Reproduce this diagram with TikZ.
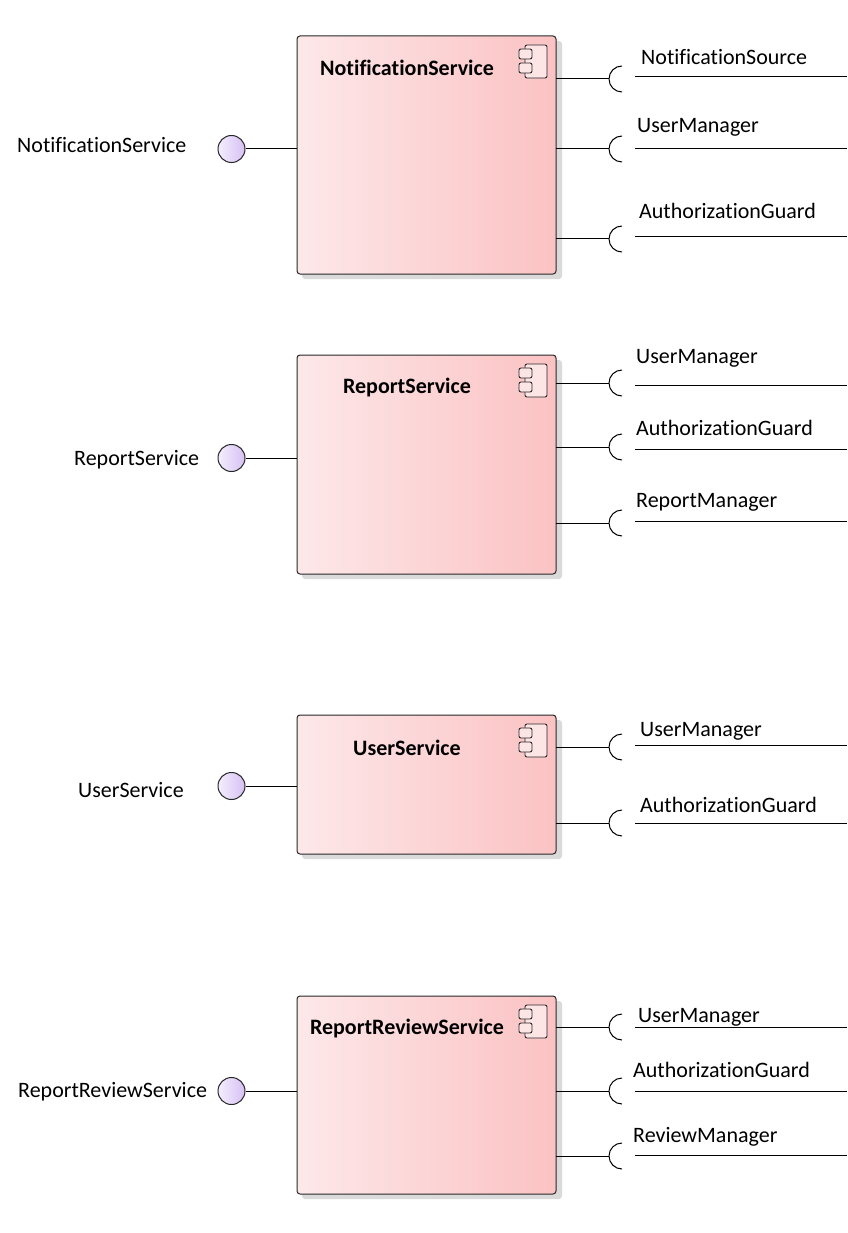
\documentclass[tikz,border=0pt]{standalone}
\usepackage{fontspec}
\setmainfont{Carlito}[Ligatures={NoCommon,NoRequired,NoContextual}]
\definecolor{boxL}{RGB}{253,232,233}
\definecolor{boxR}{RGB}{251,194,195}
\definecolor{iconF}{RGB}{253,228,229}
\definecolor{lolL}{RGB}{244,238,253}
\definecolor{lolR}{RGB}{214,192,244}
\definecolor{shadowc}{RGB}{218,218,218}
\definecolor{edge}{RGB}{40,40,40}
\tikzset{
  comp/.style={draw=edge, line width=1pt, rounded corners=3pt, left color=boxL, right color=boxR,
    minimum width=259pt, anchor=north west, inner sep=0pt, outer sep=0pt},
  ctitle/.style={font=\fontsize{22}{25}\selectfont\bfseries, inner sep=0pt},
  lbl/.style={font=\fontsize{22}{25}\selectfont, inner sep=0pt, anchor=base west},
  lolli/.style={circle, draw=edge, line width=1pt, minimum size=27pt, inner sep=0pt,
    left color=lolL, right color=lolR},
  sock/.style={circle, minimum size=26pt, inner sep=0pt, outer sep=0pt},
  iconst/.style={draw=edge, line width=0.9pt, fill=iconF, rounded corners=2pt},
  conn/.style={draw=black, line width=1pt},
}
\newcommand\Comp[9]{%
  \fill[shadowc, rounded corners=3pt] (302,#2+5) rectangle (562,#3+5);
  \node[comp, minimum height={#3-#2}] (#1) at (297,#2) {};
  \node[ctitle] (#1-t) at (407,#5+1) {#4};
  \draw[iconst] (525,#2+9) rectangle (547,#2+42);
  \draw[iconst] (519,#2+13) rectangle (532,#2+23);
  \draw[iconst] (519,#2+27) rectangle (532,#2+37);
  \node[lolli] (#1-p) at (231.5,#6) {};
  \draw[conn] (#1-p.east) -- (#1-p -| #1.west);
  \node[lbl] (#1-pl) at (#8,#9+1) {#7};
}
\newcommand\Req[7]{%
  \node[sock] (#1-#2) at (622,#3) {};
  \draw[conn] (#1-#2.west -| #1.east) -- (#1-#2.west);
  \draw[conn] (#1-#2.north) arc[start angle=90, end angle=270, radius=13pt];
  \coordinate (#1-#2a) at (635,#4);
  \coordinate (#1-#2b) at (847,#4);
  \draw[conn] (#1-#2a) -- (#1-#2b);
  \node[lbl] (#1-#2l) at (#5,#6+1) {#7};
}
\begin{document}
\begin{tikzpicture}[x=1pt,y=-1pt]
\useasboundingbox[fill=white] (0,0) rectangle (847,1233);
% Component 1
\Comp{nsv}{36}{274}{NotificationService}{67}{149}{NotificationService}{17}{152}
\Req{nsv}{a}{79}{77}{641}{64}{NotificationSource}
\Req{nsv}{b}{149}{149}{637}{132}{UserManager}
\Req{nsv}{c}{239}{237}{639}{218}{AuthorizationGuard}
% Component 2
\Comp{rsv}{355}{574}{ReportService}{387}{458}{ReportService}{74}{464}
\Req{rsv}{a}{383}{385}{636}{362}{UserManager}
\Req{rsv}{b}{447}{449}{636}{434}{AuthorizationGuard}
\Req{rsv}{c}{523}{521}{636}{506}{ReportManager}
% Component 3
\Comp{usv}{715}{854}{UserService}{747}{786}{UserService}{78}{796}
\Req{usv}{a}{747}{745}{640}{735}{UserManager}
\Req{usv}{b}{823}{823}{640}{811}{AuthorizationGuard}
% Component 4
\Comp{rrs}{996}{1194}{ReportReviewService}{1027}{1091}{ReportReviewService}{18}{1096}
\Req{rrs}{a}{1027}{1027}{638}{1021}{UserManager}
\Req{rrs}{b}{1091}{1091}{633}{1076}{AuthorizationGuard}
\Req{rrs}{c}{1156}{1155}{633}{1141}{ReviewManager}
\end{tikzpicture}
\end{document}
